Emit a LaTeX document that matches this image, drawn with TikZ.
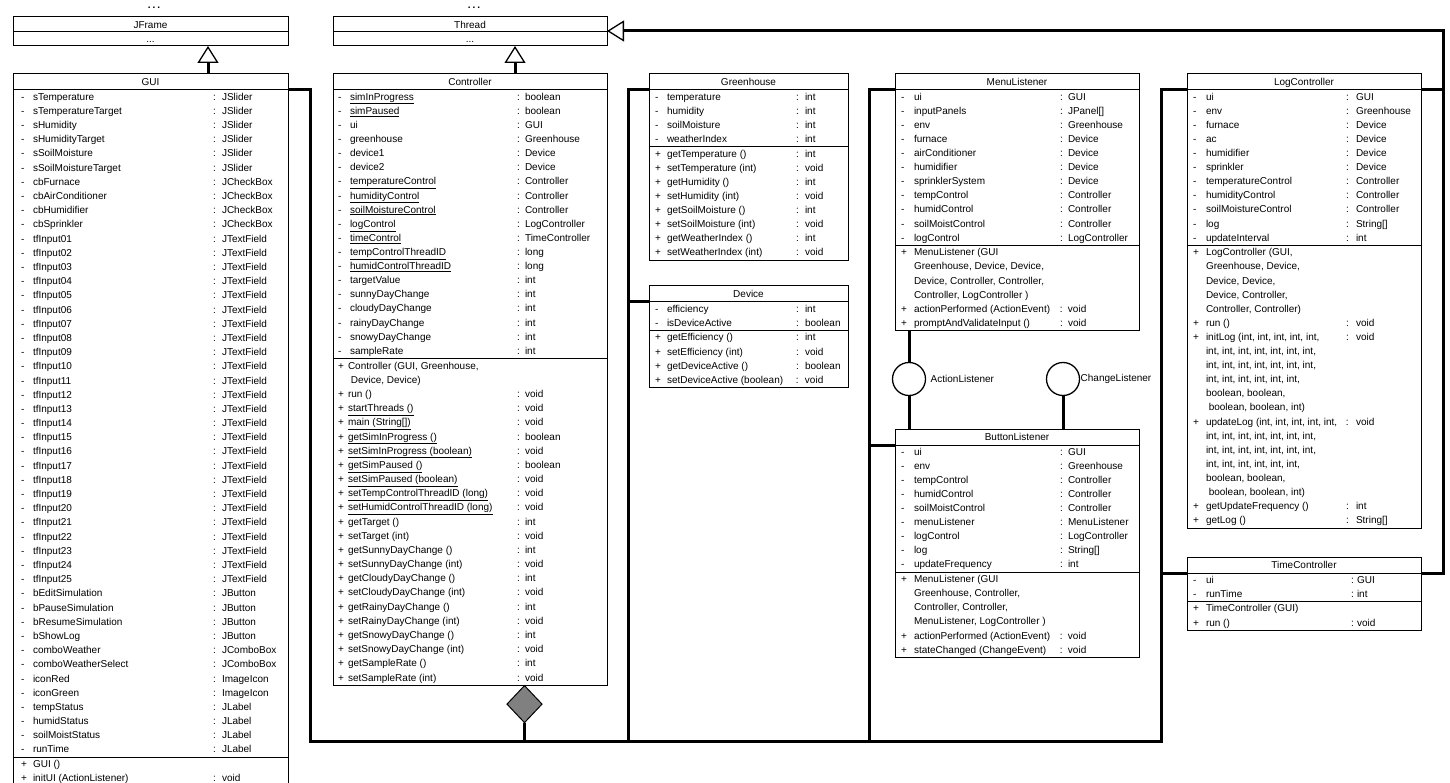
\documentclass[tikz,border=0pt]{standalone}
\usepackage{fontspec}
\setmainfont{Liberation Sans}
\usetikzlibrary{arrows.meta,shapes.geometric,calc}
\newlength\clsW \newlength\clsS \newlength\clsN \newlength\clsC \newlength\clsT
\newcommand\setcols[5]{\clsW=#1pt\relax\clsS=#2pt\relax\clsN=#3pt\relax\clsC=#4pt\relax\clsT=#5pt\relax}
\newcommand\Arow[3]{\hbox to\clsW{\kern\clsS\rlap{#1}\kern\dimexpr\clsN-\clsS\relax\rlap{#2}\kern\dimexpr\clsC-\clsN\relax\rlap{:}\kern\dimexpr\clsT-\clsC\relax#3\strut\hss}}
\newcommand\Nrow[2]{\hbox to\clsW{\kern\clsS\rlap{#1}\kern\dimexpr\clsN-\clsS\relax#2\strut\hss}}
\newcommand\Crow[1]{\hbox to\clsW{\kern\clsN#1\strut\hss}}
\newcommand\tfrow[1]{\Arow{-}{tfInput#1}{JTextField}}
\newcommand\pitch[1]{\fontsize{10}{#1}\selectfont}
\begin{document}
\begin{tikzpicture}[x=1pt,y=-1pt,
  every node/.style={font=\fontsize{10}{14.1}\selectfont},
  ttl/.style={draw, line width=1pt, inner sep=0pt, outer sep=0pt, anchor=north west,
    minimum width=#1, minimum height=16pt, text height=7.2pt, text depth=0pt},
  cmp/.style={draw, line width=1pt, inner xsep=0pt, inner ysep=0.3pt, outer sep=0pt, anchor=north west},
  bus/.style={line width=3pt},
  gen/.style={line width=3pt, -{Triangle[open, length=17pt, width=21pt, line width=1.3pt]}},
  lolli/.style={circle, draw, line width=1.3pt, minimum size=33pt, inner sep=0pt, outer sep=0pt},
  dots/.style={font=\fontsize{10}{10}\selectfont\bfseries, anchor=base, inner sep=0pt, text=black!90!blue}
]
\fill[white] (0,0) rectangle (1450,783);
\useasboundingbox (0,0) rectangle (1450,783);

% ---------- JFrame / Thread ----------
\node[dots] (dots1) at (154,9) {.\kern2pt.\kern2pt.};
\node[dots] (dots2) at (474,9) {.\kern2pt.\kern2pt.};
\node[ttl=275pt, minimum height=15pt] (jf-t) at (13,17) {JFrame};
\node[ttl=275pt, minimum height=14pt] (jf-b) at (jf-t.south west) {...};
\node[ttl=274pt, minimum height=15pt] (th-t) at (333,17) {Thread};
\node[ttl=274pt, minimum height=14pt] (th-b) at (th-t.south west) {...};

% ---------- GUI ----------
\node[ttl=275pt] (gui-t) at (13,74) {GUI};
\node[cmp] (gui-a) at (gui-t.south west) {\pitch{14.19}\setcols{275}{8}{20}{200}{209}\vbox{%
\Arow{-}{sTemperature}{JSlider}
\Arow{-}{sTemperatureTarget}{JSlider}
\Arow{-}{sHumidity}{JSlider}
\Arow{-}{sHumidityTarget}{JSlider}
\Arow{-}{sSoilMoisture}{JSlider}
\Arow{-}{sSoilMoistureTarget}{JSlider}
\Arow{-}{cbFurnace}{JCheckBox}
\Arow{-}{cbAirConditioner}{JCheckBox}
\Arow{-}{cbHumidifier}{JCheckBox}
\Arow{-}{cbSprinkler}{JCheckBox}
\tfrow{01}\tfrow{02}\tfrow{03}\tfrow{04}\tfrow{05}
\tfrow{06}\tfrow{07}\tfrow{08}\tfrow{09}\tfrow{10}
\tfrow{11}\tfrow{12}\tfrow{13}\tfrow{14}\tfrow{15}
\tfrow{16}\tfrow{17}\tfrow{18}\tfrow{19}\tfrow{20}
\tfrow{21}\tfrow{22}\tfrow{23}\tfrow{24}\tfrow{25}
\Arow{-}{bEditSimulation}{JButton}
\Arow{-}{bPauseSimulation}{JButton}
\Arow{-}{bResumeSimulation}{JButton}
\Arow{-}{bShowLog}{JButton}
\Arow{-}{comboWeather}{JComboBox}
\Arow{-}{comboWeatherSelect}{JComboBox}
\Arow{-}{iconRed}{ImageIcon}
\Arow{-}{iconGreen}{ImageIcon}
\Arow{-}{tempStatus}{JLabel}
\Arow{-}{humidStatus}{JLabel}
\Arow{-}{soilMoistStatus}{JLabel}
\Arow{-}{runTime}{JLabel}}};
\node[cmp] (gui-m) at (gui-a.south west) {\pitch{14.19}\setcols{275}{8}{20}{200}{209}\vbox{%
\Nrow{+}{GUI ()}
\Arow{+}{initUI (ActionListener)}{void}}};

% ---------- Controller ----------
\node[ttl=274pt] (ctl-t) at (333,74) {Controller};
\node[cmp] (ctl-a) at (ctl-t.south west) {\pitch{14.12}\setcols{274}{5}{17}{184}{192}\vbox{%
\Arow{-}{\underline{simInProgress}}{boolean}
\Arow{-}{\underline{simPaused}}{boolean}
\Arow{-}{ui}{GUI}
\Arow{-}{greenhouse}{Greenhouse}
\Arow{-}{device1}{Device}
\Arow{-}{device2}{Device}
\Arow{-}{\underline{temperatureControl}}{Controller}
\Arow{-}{\underline{humidityControl}}{Controller}
\Arow{-}{\underline{soilMoistureControl}}{Controller}
\Arow{-}{\underline{logControl}}{LogController}
\Arow{-}{\underline{timeControl}}{TimeController}
\Arow{-}{\underline{tempControlThreadID}}{long}
\Arow{-}{\underline{humidControlThreadID}}{long}
\Arow{-}{targetValue}{int}
\Arow{-}{sunnyDayChange}{int}
\Arow{-}{cloudyDayChange}{int}
\Arow{-}{rainyDayChange}{int}
\Arow{-}{snowyDayChange}{int}
\Arow{-}{sampleRate}{int}}};
\node[cmp] (ctl-m) at (ctl-a.south west) {\pitch{14.18}\setcols{274}{5}{15}{184}{192}\vbox{%
\Nrow{+}{Controller (GUI, Greenhouse,}
\Crow{\ Device, Device)}
\Arow{+}{run ()}{void}
\Arow{+}{\underline{startThreads ()}}{void}
\Arow{+}{\underline{main (String[])}}{void}
\Arow{+}{\underline{getSimInProgress ()}}{boolean}
\Arow{+}{\underline{setSimInProgress (boolean)}}{void}
\Arow{+}{\underline{getSimPaused ()}}{boolean}
\Arow{+}{\underline{setSimPaused (boolean)}}{void}
\Arow{+}{\underline{setTempControlThreadID (long)}}{void}
\Arow{+}{\underline{setHumidControlThreadID (long)}}{void}
\Arow{+}{getTarget ()}{int}
\Arow{+}{setTarget (int)}{void}
\Arow{+}{getSunnyDayChange ()}{int}
\Arow{+}{setSunnyDayChange (int)}{void}
\Arow{+}{getCloudyDayChange ()}{int}
\Arow{+}{setCloudyDayChange (int)}{void}
\Arow{+}{getRainyDayChange ()}{int}
\Arow{+}{setRainyDayChange (int)}{void}
\Arow{+}{getSnowyDayChange ()}{int}
\Arow{+}{setSnowyDayChange (int)}{void}
\Arow{+}{getSampleRate ()}{int}
\Arow{+}{setSampleRate (int)}{void}}};

% ---------- Greenhouse ----------
\node[ttl=199pt] (gh-t) at (649,74) {Greenhouse};
\node[cmp] (gh-a) at (gh-t.south west) {\setcols{199}{6}{18}{147}{156}\vbox{%
\Arow{-}{temperature}{int}
\Arow{-}{humidity}{int}
\Arow{-}{soilMoisture}{int}
\Arow{-}{weatherIndex}{int}}};
\node[cmp] (gh-m) at (gh-a.south west) {\setcols{199}{6}{18}{147}{156}\vbox{%
\Arow{+}{getTemperature ()}{int}
\Arow{+}{setTemperature (int)}{void}
\Arow{+}{getHumidity ()}{int}
\Arow{+}{setHumidity (int)}{void}
\Arow{+}{getSoilMoisture ()}{int}
\Arow{+}{setSoilMoisture (int)}{void}
\Arow{+}{getWeatherIndex ()}{int}
\Arow{+}{setWeatherIndex (int)}{void}}};

% ---------- Device ----------
\node[ttl=199pt] (dev-t) at (649,286) {Device};
\node[cmp] (dev-a) at (dev-t.south west) {\setcols{199}{6}{18}{147}{156}\vbox{%
\Arow{-}{efficiency}{int}
\Arow{-}{isDeviceActive}{boolean}}};
\node[cmp] (dev-m) at (dev-a.south west) {\setcols{199}{6}{18}{147}{156}\vbox{%
\Arow{+}{getEfficiency ()}{int}
\Arow{+}{setEfficiency (int)}{void}
\Arow{+}{getDeviceActive ()}{boolean}
\Arow{+}{setDeviceActive (boolean)}{void}}};

% ---------- MenuListener ----------
\node[ttl=244pt] (ml-t) at (895,74) {MenuListener};
\node[cmp] (ml-a) at (ml-t.south west) {\setcols{244}{6}{19}{165}{173}\vbox{%
\Arow{-}{ui}{GUI}
\Arow{-}{inputPanels}{JPanel[]}
\Arow{-}{env}{Greenhouse}
\Arow{-}{furnace}{Device}
\Arow{-}{airConditioner}{Device}
\Arow{-}{humidifier}{Device}
\Arow{-}{sprinklerSystem}{Device}
\Arow{-}{tempControl}{Controller}
\Arow{-}{humidControl}{Controller}
\Arow{-}{soilMoistControl}{Controller}
\Arow{-}{logControl}{LogController}}};
\node[cmp] (ml-m) at (ml-a.south west) {\setcols{244}{6}{19}{165}{173}\vbox{%
\Nrow{+}{MenuListener (GUI}
\Crow{Greenhouse, Device, Device,}
\Crow{Device, Controller, Controller,}
\Crow{Controller, LogController )}
\Arow{+}{actionPerformed (ActionEvent)}{void}
\Arow{+}{promptAndValidateInput ()}{void}}};

% ---------- ButtonListener ----------
\node[ttl=244pt] (btn-t) at (895,429) {ButtonListener};
\node[cmp] (btn-a) at (btn-t.south west) {\setcols{244}{6}{19}{165}{173}\vbox{%
\Arow{-}{ui}{GUI}
\Arow{-}{env}{Greenhouse}
\Arow{-}{tempControl}{Controller}
\Arow{-}{humidControl}{Controller}
\Arow{-}{soilMoistControl}{Controller}
\Arow{-}{menuListener}{MenuListener}
\Arow{-}{logControl}{LogController}
\Arow{-}{log}{String[]}
\Arow{-}{updateFrequency}{int}}};
\node[cmp] (btn-m) at (btn-a.south west) {\setcols{244}{6}{19}{165}{173}\vbox{%
\Nrow{+}{MenuListener (GUI}
\Crow{Greenhouse, Controller,}
\Crow{Controller, Controller,}
\Crow{MenuListener, LogController )}
\Arow{+}{actionPerformed (ActionEvent)}{void}
\Arow{+}{stateChanged (ChangeEvent)}{void}}};

% ---------- LogController ----------
\node[ttl=234pt] (log-t) at (1187,74) {LogController};
\node[cmp] (log-a) at (log-t.south west) {\setcols{234}{6}{19}{159}{169}\vbox{%
\Arow{-}{ui}{GUI}
\Arow{-}{env}{Greenhouse}
\Arow{-}{furnace}{Device}
\Arow{-}{ac}{Device}
\Arow{-}{humidifier}{Device}
\Arow{-}{sprinkler}{Device}
\Arow{-}{temperatureControl}{Controller}
\Arow{-}{humidityControl}{Controller}
\Arow{-}{soilMoistureControl}{Controller}
\Arow{-}{log}{String[]}
\Arow{-}{updateInterval}{int}}};
\node[cmp] (log-m) at (log-a.south west) {\setcols{234}{6}{19}{159}{169}\vbox{%
\Nrow{+}{LogController (GUI,}
\Crow{Greenhouse, Device,}
\Crow{Device, Device,}
\Crow{Device, Controller,}
\Crow{Controller, Controller)}
\Arow{+}{run ()}{void}
\Arow{+}{initLog (int, int, int, int, int,}{void}
\Crow{int, int, int, int, int, int, int,}
\Crow{int, int, int, int, int, int, int,}
\Crow{int, int, int, int, int, int,}
\Crow{boolean, boolean,}
\Crow{\ boolean, boolean, int)}
\Arow{+}{updateLog (int, int, int, int, int,}{void}
\Crow{int, int, int, int, int, int, int,}
\Crow{int, int, int, int, int, int, int,}
\Crow{int, int, int, int, int, int,}
\Crow{boolean, boolean,}
\Crow{\ boolean, boolean, int)}
\Arow{+}{getUpdateFrequency ()}{int}
\Arow{+}{getLog ()}{String[]}}};

% ---------- TimeController ----------
\node[ttl=234pt] (tc-t) at (1187,557) {TimeController};
\node[cmp] (tc-a) at (tc-t.south west) {\setcols{234}{6}{19}{164}{170}\vbox{%
\Arow{-}{ui}{GUI}
\Arow{-}{runTime}{int}}};
\node[cmp] (tc-m) at (tc-a.south west) {\setcols{234}{6}{19}{164}{170}\vbox{%
\Nrow{+}{TimeController (GUI)}
\Arow{+}{run ()}{void}}};

% ---------- interfaces ----------
\node[lolli] (al) at (909,379) {};
\node[anchor=west, inner sep=0pt, xshift=5pt] (al-l) at (al.east) {ActionListener};
\node[lolli] (cl) at (1063,379) {};
\node[anchor=west, inner sep=0pt, xshift=1pt] (cl-l) at (cl.east) {ChangeListener};

% ---------- helper coordinates ----------
\coordinate (b1) at (310,741);
\coordinate (b2) at (628,741);
\coordinate (b3) at (869,741);
\coordinate (b4) at (1161,741);
\coordinate (rb) at (1443,31);
\coordinate (gx) at (208,0);
\coordinate (cx) at (515,0);
\coordinate (ax) at (524.5,0);

\node[diamond, draw, fill=gray, line width=1pt, minimum width=35pt, minimum height=37pt,
  inner sep=0pt, outer sep=0pt, anchor=north] (agg) at (ctl-m.south -| ax) {};

% ---------- connectors ----------
\draw[gen] (gui-t.north -| gx) -- (jf-b.south -| gx);
\draw[gen] (ctl-t.north -| cx) -- (th-b.south -| cx);
\draw[bus] (gui-t.south east) -| (b1) -- (b4) |- (log-t.south west);
\draw[bus] (gh-t.south west) -| (b2);
\draw[bus] (dev-t.south west) -- (dev-t.south west -| b2);
\draw[bus] (ml-t.south west) -| (b3);
\draw[bus] (btn-t.south west) -- (btn-t.south west -| b3);
\draw[bus] (tc-t.south west) -- (tc-t.south west -| b4);
\draw[bus] (agg.south) -- (agg.south |- b1);
\draw[bus] (log-t.south east) -- (log-t.south east -| rb);
\draw[gen] (tc-t.south east) -| (rb) -- (rb -| th-t.east);
\draw[bus] (ml-m.south -| al) -- (al.north);
\draw[bus] (al.south) -- (btn-t.north -| al);
\draw[bus] (cl.south) -- (btn-t.north -| cl);
\end{tikzpicture}
\end{document}
